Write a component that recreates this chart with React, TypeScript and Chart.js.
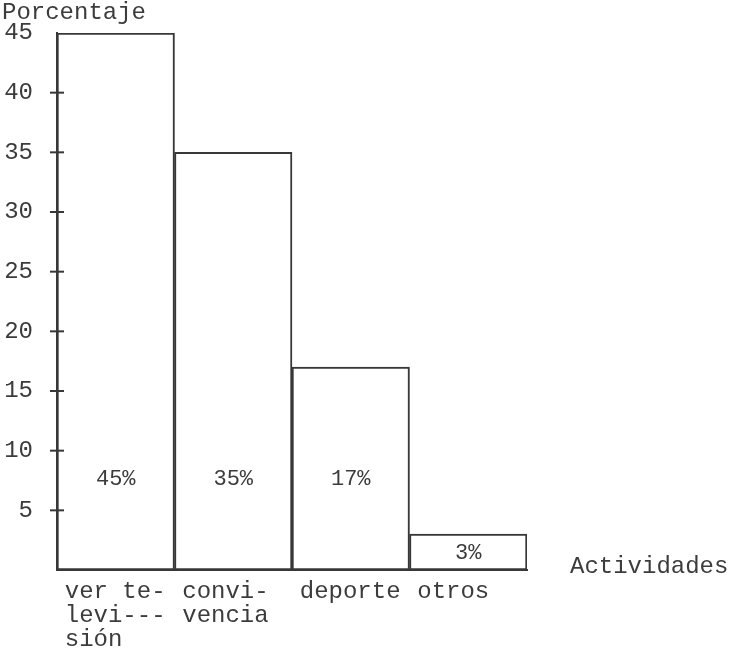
import React, { useEffect, useRef } from "react";
import { Chart, registerables } from "chart.js";

Chart.register(...registerables);

const categories: string[][] = [
  ["ver te-", "levi---", "sión"],
  ["convi-", "vencia"],
  ["deporte"],
  ["otros"],
];
const values: number[] = [45, 35, 17, 3];
const valueLabels: string[] = ["45%", "35%", "17%", "3%"];
const yTicks: number[] = [5, 10, 15, 20, 25, 30, 35, 40, 45];
const yTitle = "Porcentaje";
const xTitle = "Actividades";

const FONT = "'Liberation Mono', 'Courier New', monospace";
const INK = "#383838";
const TEXT = "#3c3c3c";

const decor = {
  id: "decor",
  afterDraw(chart: any) {
    const { ctx, chartArea, scales } = chart;
    const y = scales.y;
    const x = scales.x;
    ctx.save();
    // crossing tick marks on the y axis
    ctx.strokeStyle = INK;
    ctx.lineWidth = 2;
    yTicks.forEach((t) => {
      if (t >= 45) return;
      const py = y.getPixelForValue(t);
      ctx.beginPath();
      ctx.moveTo(chartArea.left - 7, py);
      ctx.lineTo(chartArea.left + 7, py);
      ctx.stroke();
    });
    // value labels inside bars
    ctx.fillStyle = TEXT;
    ctx.font = `22px ${FONT}`;
    ctx.textAlign = "center";
    ctx.textBaseline = "middle";
    values.forEach((v, i) => {
      const px = x.getPixelForValue(i);
      const py = y.getPixelForValue(Math.min(v / 2, 7.7));
      ctx.fillText(valueLabels[i], px, py + 1);
    });
    // axis titles
    ctx.font = `24px ${FONT}`;
    ctx.textAlign = "left";
    ctx.textBaseline = "middle";
    ctx.fillText(yTitle, 2, 13);
    ctx.fillText(xTitle, chartArea.right + 43, chartArea.bottom - 3);
    ctx.restore();
  },
};

export default function App() {
  const ref = useRef<HTMLCanvasElement>(null);
  useEffect(() => {
    if (!ref.current) return;
    const chart = new Chart(ref.current, {
      type: "bar",
      data: {
        labels: categories,
        datasets: [
          {
            data: values,
            backgroundColor: "#ffffff",
            borderColor: INK,
            borderWidth: 2,
            borderSkipped: false,
            barPercentage: 1,
            categoryPercentage: 1,
          },
        ],
      },
      options: {
        responsive: false,
        animation: false,
        events: [],
        layout: { padding: { left: 0, top: 33, right: 203, bottom: 0 } },
        plugins: { legend: { display: false }, tooltip: { enabled: false } },
        scales: {
          x: {
            grid: { display: false, drawTicks: false },
            border: { display: true, color: INK, width: 2 },
            ticks: {
              color: TEXT,
              font: { family: FONT, size: 24, lineHeight: 1.0 },
              align: "start",
              labelOffset: -51,
              padding: 10,
              maxRotation: 0,
              autoSkip: false,
            },
            afterFit: (s: any) => {
              s.height = 84;
              s.paddingLeft = 0;
              s.paddingRight = 0;
              s.paddingTop = 0;
              s.paddingBottom = 0;
            },
          },
          y: {
            min: 0,
            max: 45,
            afterBuildTicks: (s: any) => {
              s.ticks = yTicks.map((v) => ({ value: v }));
            },
            grid: { display: false, drawTicks: false },
            border: { display: true, color: INK, width: 2 },
            ticks: {
              color: TEXT,
              font: { family: FONT, size: 24 },
              padding: 24,
            },
            afterFit: (s: any) => {
              s.width = 57;
              s.paddingLeft = 0;
              s.paddingRight = 0;
              s.paddingTop = 0;
              s.paddingBottom = 0;
            },
          },
        },
      },
      plugins: [decor],
    });
    return () => chart.destroy();
  }, []);
  return (
    <div style={{ position: "absolute", left: 0, top: 0, width: 730, height: 654, background: "#fff" }}>
      <canvas ref={ref} width={730} height={654} />
    </div>
  );
}
